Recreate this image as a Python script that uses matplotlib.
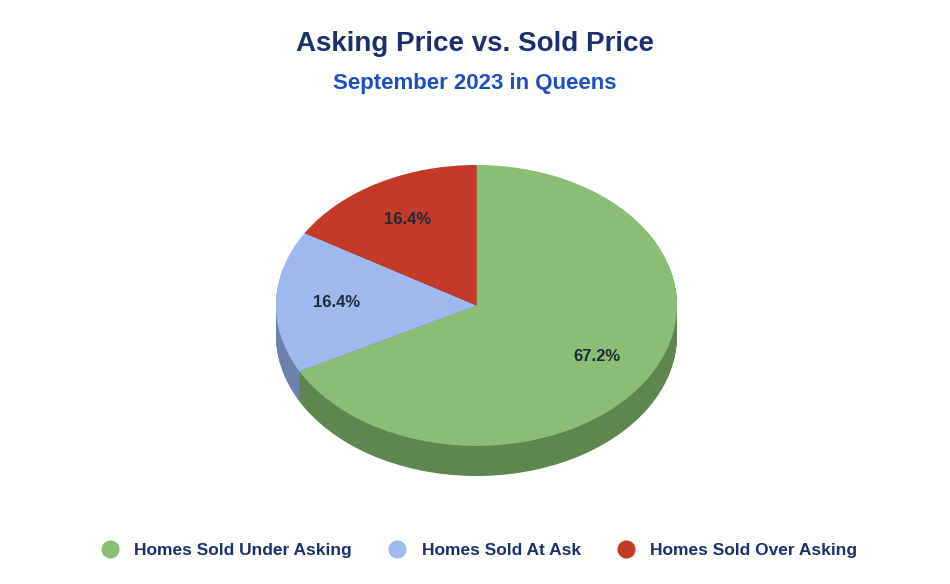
import matplotlib
matplotlib.use("Agg")
import matplotlib.pyplot as plt
from matplotlib.lines import Line2D

plt.rcParams['font.family'] = ['Liberation Sans', 'DejaVu Sans']

categories = ["Homes Sold Under Asking", "Homes Sold At Ask", "Homes Sold Over Asking"]
values = [67.3, 16.4, 16.4]
top_colors = ["#8bbd74", "#9fb9ef", "#c23b28"]
side_colors = ["#5f8650", "#6e81ad", "#8e2c1f"]

W, H = 950, 584
fig = plt.figure(figsize=(W/100, H/100), dpi=100)
depth = 30/140.0
ax = fig.add_axes([276/W, 1-476/H, 401/W, 311/H])

N = 40
for i in range(N, 0, -1):
    ax.pie(values, colors=side_colors, startangle=90, counterclock=False,
           center=(0, -depth*i/N), radius=1, wedgeprops=dict(linewidth=0))
ax.pie(values, colors=top_colors, startangle=90, counterclock=False,
       center=(0, 0), radius=1, wedgeprops=dict(linewidth=0),
       autopct='%.1f%%', pctdistance=0.7,
       textprops=dict(color="#1f2a3a", fontsize=12, fontweight='bold'))
ax.set_aspect('auto')
ax.set_xlim(-1, 1)
ax.set_ylim(-1-depth, 1)
ax.axis('off')

fig.text(0.5, 1-44/H, "Asking Price vs. Sold Price", ha='center', va='center',
         fontsize=20, fontweight='bold', color="#1c2f6e")
fig.text(0.5, 1-83/H, "September 2023 in Queens", ha='center', va='center',
         fontsize=16, fontweight='bold', color="#1d4fc4")

handles = [Line2D([], [], marker='o', linestyle='', markersize=12,
                  markerfacecolor=c, markeredgecolor=c) for c in top_colors]
fig.legend(handles, categories, loc='center', bbox_to_anchor=(0.5, 1-550/H),
           ncol=3, frameon=False, handletextpad=0.4, columnspacing=1.6,
           prop=dict(size=12.5, weight='bold'), labelcolor="#1c2f6e")

fig.savefig("out.png", dpi=100, facecolor='white')
